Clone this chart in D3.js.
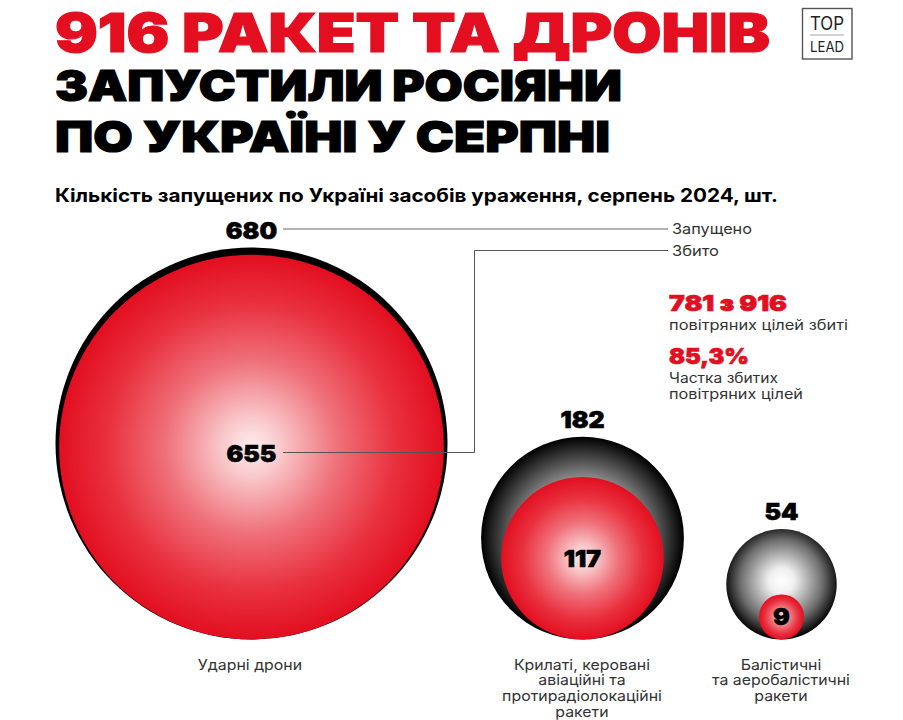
<!DOCTYPE html>
<html><head><meta charset="utf-8">
<script src="https://cdn.jsdelivr.net/npm/d3@7/dist/d3.min.js"></script>
<style>html,body{margin:0;padding:0;background:#fff}svg{display:block}text{font-family:Inter,"Noto Sans",sans-serif}</style>
</head><body><svg id="c" width="903" height="720"></svg>
<script>
const categories = ["Ударні дрони", "Крилаті, керовані авіаційні та протирадіолокаційні ракети", "Балістичні та аеробалістичні ракети"];
const launched = [680, 182, 54];
const intercepted = [655, 117, 9];
const categoryLines = [["Ударні дрони"], ["Крилаті, керовані", "авіаційні та", "протирадіолокаційні", "ракети"], ["Балістичні", "та аеробалістичні", "ракети"]];
const titleLines = ["916 РАКЕТ ТА ДРОНІВ", "ЗАПУСТИЛИ РОСІЯНИ", "ПО УКРАЇНІ У СЕРПНІ"];
const subtitle = "Кількість запущених по Україні засобів ураження, серпень 2024, шт.";
const legendLabels = ["Запущено", "Збито"];

const svg = d3.select("#c");
const RED = "#e30f20";
const r = d3.scaleSqrt().domain([0, 680]).range([0, 196]);
const cx = d3.scaleOrdinal(categories, [251.5, 582.5, 781.5]);
const baseY = 639.5;
const innerLabelShift = d3.scaleOrdinal(categories, [14.5, 8.5, 8]);

const defs = svg.append("defs");
function grad(id, cxp, cyp, rp, stops) {
  const g = defs.append("radialGradient").attr("id", id).attr("cx", cxp).attr("cy", cyp).attr("r", rp);
  stops.forEach(s => g.append("stop").attr("offset", s[0]).attr("stop-color", s[1]));
}
grad("gBlack0", .5, .5, .5, [[0, "#000"], [1, "#000"]]);
grad("gBlack1", .5, .5, .5, [[0, "#fff"], [.6, "#8a8a8a"], [1, "#000"]]);
grad("gBlack2", .5, .47, .53, [[0, "#fff"], [.22, "#efefef"], [.7, "#6e6e6e"], [1, "#000"]]);
grad("gRed", .5, .5, .5, [[0, "#feeeee"], [.15, "#f9c9cc"], [.45, "#ef7079"], [.75, "#e9303e"], [1, "#e20f20"]]);

const T = svg.append("g");
const titleSpec = [[52, 53, RED, 715], [101, 43, "#000", 567], [152, 43, "#000", 555]];
T.selectAll("text").data(titleLines).join("text")
  .attr("x", 55).attr("y", (d, i) => titleSpec[i][0])
  .attr("font-size", (d, i) => titleSpec[i][1]).attr("font-weight", 900)
  .attr("fill", (d, i) => titleSpec[i][2])
  .attr("stroke", (d, i) => titleSpec[i][2]).attr("stroke-width", 1.2)
  .attr("textLength", (d, i) => titleSpec[i][3]).attr("lengthAdjust", "spacingAndGlyphs")
  .text(d => d);
svg.append("text").attr("x", 55).attr("y", 202).attr("font-size", 18.5).attr("font-weight", 700)
  .attr("textLength", 723).attr("lengthAdjust", "spacingAndGlyphs").text(subtitle);

// logo
const logo = svg.append("g");
logo.append("rect").attr("x", 802.5).attr("y", 8.5).attr("width", 49.5).attr("height", 50.5).attr("fill", "#fff").attr("stroke", "#555").attr("stroke-width", 1.4);
logo.append("text").attr("x", 810).attr("y", 30).attr("font-size", 18).attr("fill", "#222").attr("textLength", 34).attr("lengthAdjust", "spacingAndGlyphs").text("TOP");
logo.append("line").attr("x1", 810).attr("x2", 844).attr("y1", 35).attr("y2", 35).attr("stroke", "#a99fae").attr("stroke-width", 1.2);
logo.append("text").attr("x", 810).attr("y", 52).attr("font-size", 14).attr("fill", "#222").attr("textLength", 34).attr("lengthAdjust", "spacingAndGlyphs").text("LEAD");

// circles
const g = svg.append("g");
const idx = categories.map((c, i) => i);
g.selectAll("circle.o").data(idx).join("circle").attr("class", "o")
  .attr("cx", i => cx(categories[i])).attr("cy", i => baseY - r(launched[i])).attr("r", i => r(launched[i]))
  .attr("fill", i => `url(#gBlack${i})`);
g.selectAll("circle.i").data(idx).join("circle").attr("class", "i")
  .attr("cx", i => cx(categories[i])).attr("cy", i => baseY - r(intercepted[i])).attr("r", i => r(intercepted[i]))
  .attr("fill", "url(#gRed)");

// leaders
const leaderA = d3.line()([[283, 229], [668, 229]]);
const leaderB = d3.line()([[283, 452.5], [474.5, 452.5], [474.5, 250.5], [668, 250.5]]);
svg.append("path").attr("d", leaderA).attr("fill", "none").attr("stroke", "#999").attr("stroke-width", 1.3);
svg.append("path").attr("d", leaderB).attr("fill", "none").attr("stroke", "#555");

// value labels
const heavy = s => s.attr("text-anchor", "middle").attr("font-size", 23).attr("font-weight", 900)
  .attr("stroke", "#000").attr("stroke-width", .6)
  .each(function () { this.setAttribute("textLength", this.getComputedTextLength() * 1.08); this.setAttribute("lengthAdjust", "spacingAndGlyphs"); });
g.selectAll("text.o").data(idx).join("text").attr("class", "o")
  .attr("x", i => cx(categories[i])).attr("y", i => baseY - 2 * r(launched[i]) - 9)
  .text(i => launched[i]).call(heavy);
g.selectAll("text.i").data(idx).join("text").attr("class", "i")
  .attr("x", i => cx(categories[i]))
  .attr("y", i => baseY - r(intercepted[i]) + innerLabelShift(categories[i]))
  .text(i => intercepted[i]).call(heavy);

// category labels
const catX = d3.scaleOrdinal(categories, [250, 582, 781]);
categories.forEach((c, i) => {
  svg.append("g").selectAll("text").data(categoryLines[i]).join("text")
    .attr("text-anchor", "middle").attr("font-size", 14.3).attr("fill", "#333")
    .attr("x", catX(c)).attr("y", (d, k) => 669.5 + k * 15.7).text(d => d)
    .each(function () { this.setAttribute("textLength", this.getComputedTextLength() * 1.11); this.setAttribute("lengthAdjust", "spacingAndGlyphs"); });
});

// legend
svg.selectAll("text.l").data(legendLabels).join("text").attr("class", "l")
  .attr("x", 672).attr("y", (d, i) => 234 + i * 21.5).attr("font-size", 14.5).attr("fill", "#333").text(d => d)
  .attr("textLength", (d, i) => [80, 47][i]).attr("lengthAdjust", "spacingAndGlyphs");

// KPI
const kpi = svg.append("g");
const kpiBig = [["781 з 916", 311, 118], ["85,3%", 363.5, 80]];
const kpiSmall = [["повітряних цілей збиті", 329.5, 179], ["Частка збитих", 382.5, 109], ["повітряних цілей", 398.8, 134]];
kpi.selectAll("text.b").data(kpiBig).join("text").attr("class", "b").attr("x", 669).attr("y", d => d[1])
  .attr("font-size", 22).attr("font-weight", 900).attr("fill", RED).attr("stroke", RED).attr("stroke-width", .7)
  .attr("textLength", d => d[2]).attr("lengthAdjust", "spacingAndGlyphs").text(d => d[0]);
kpi.selectAll("text.s").data(kpiSmall).join("text").attr("class", "s").attr("x", 669).attr("y", d => d[1])
  .attr("font-size", 14).attr("fill", "#333")
  .attr("textLength", d => d[2]).attr("lengthAdjust", "spacingAndGlyphs").text(d => d[0]);
</script></body></html>
